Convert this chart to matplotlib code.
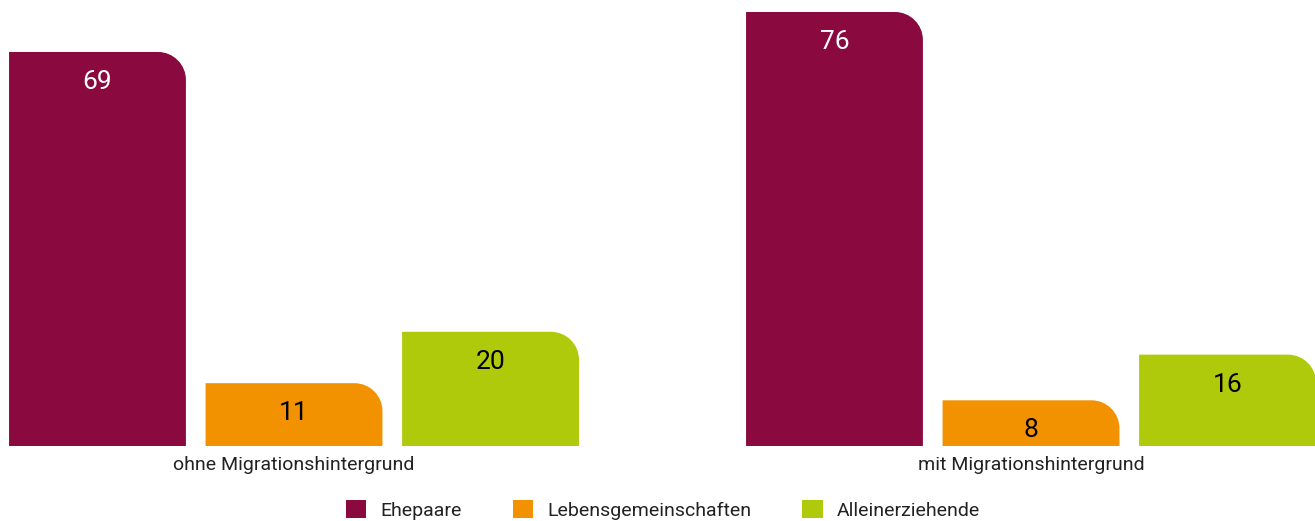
import matplotlib
matplotlib.use('Agg')
import matplotlib.pyplot as plt
from matplotlib.path import Path
from matplotlib.patches import PathPatch, Patch

groups = ['ohne Migrationshintergrund', 'mit Migrationshintergrund']
series = ['Ehepaare', 'Lebensgemeinschaften', 'Alleinerziehende']
values = {
    'Ehepaare': [69, 76],
    'Lebensgemeinschaften': [11, 8],
    'Alleinerziehende': [20, 16],
}
colors = ['#8A0A3F', '#F39200', '#AFCA0B']
label_colors = ['white', 'black', 'black']

plt.rcParams['font.family'] = ['Roboto', 'DejaVu Sans']

fig = plt.figure(figsize=(13.15, 5.21), dpi=100)
ax = fig.add_axes([0, 75 / 521, 1, 446 / 521])

group_centers = [0, 3.75]
bar_w = 0.9
ax.set_xlim(-1.496, 5.195)
ax.set_ylim(0, 78.1)

# pixel -> data scale for the rounded corner
p0 = ax.transData.transform((0, 0))
p1 = ax.transData.transform((1, 1))
r_px = 28
rx = r_px / (p1[0] - p0[0])
ry = r_px / (p1[1] - p0[1])
k = 0.5523


def rounded_bar(x0, x1, h):
    verts = [(x0, 0), (x0, h), (x1 - rx, h),
             (x1 - rx + k * rx, h), (x1, h - ry + k * ry), (x1, h - ry),
             (x1, 0), (x0, 0)]
    codes = [Path.MOVETO, Path.LINETO, Path.LINETO,
             Path.CURVE4, Path.CURVE4, Path.CURVE4,
             Path.LINETO, Path.CLOSEPOLY]
    return Path(verts, codes)


for i, name in enumerate(series):
    for g, gc in enumerate(group_centers):
        xc = gc + (i - 1)
        h = values[name][g]
        patch = PathPatch(rounded_bar(xc - bar_w / 2, xc + bar_w / 2, h),
                          facecolor=colors[i], edgecolor='none')
        ax.add_patch(patch)
        ax.annotate(str(h), (xc, h), xytext=(0, -30), textcoords='offset pixels',
                    ha='center', va='center', fontsize=19,
                    color=label_colors[i])

ax.set_xticks(group_centers)
ax.set_xticklabels(groups, fontsize=14, color='#222222')
ax.tick_params(axis='x', length=0, pad=7)
ax.set_yticks([])
for s in ax.spines.values():
    s.set_visible(False)

handles = [Patch(facecolor=c, edgecolor='none') for c in colors]
fig.legend(handles, series, loc='center', bbox_to_anchor=(663 / 1315, 11 / 521),
           ncol=3, frameon=False, fontsize=14, handlelength=1.05, handleheight=1.05,
           handletextpad=0.75, columnspacing=2.6, labelcolor='#222222')

fig.savefig('out.png', dpi=100)
